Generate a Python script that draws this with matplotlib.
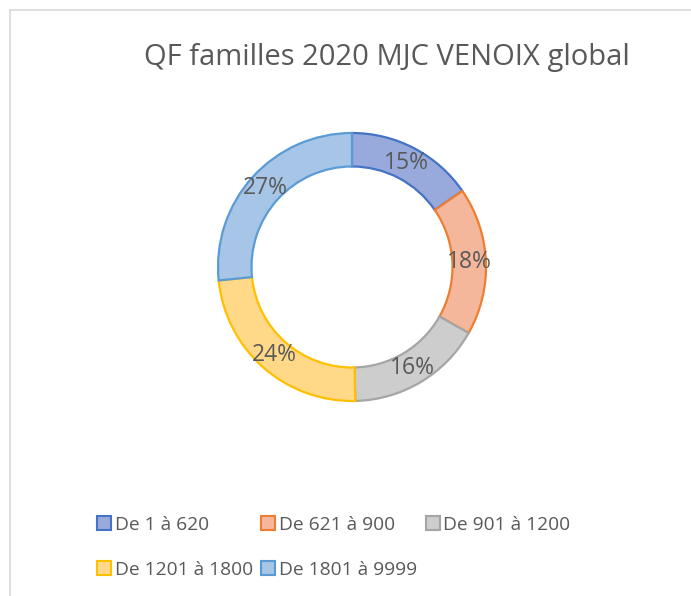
import matplotlib
matplotlib.use("Agg")
import matplotlib.pyplot as plt
from matplotlib.patches import Patch
from matplotlib.lines import Line2D
import numpy as np

categories = ["De 1 à 620", "De 621 à 900", "De 901 à 1200", "De 1201 à 1800", "De 1801 à 9999"]
values = [15.4, 17.8, 16.4, 23.8, 26.6]
labels = ["15%", "18%", "16%", "24%", "27%"]
title = "QF familles 2020 MJC VENOIX global"

edge_colors = ["#4472C4", "#ED7D31", "#A5A5A5", "#FFC000", "#5B9BD5"]
fill_colors = ["#97AADB", "#F5B79C", "#CDCDCD", "#FFD888", "#A6C5E7"]

W, H = 691, 596
fig = plt.figure(figsize=(W / 100, H / 100), dpi=100)
plt.rcParams['font.family'] = ['Open Sans', 'DejaVu Sans']

txt_color = "#595959"

# chart border
fig.add_artist(Line2D([10 / W, 1], [1 - 10 / H, 1 - 10 / H], color="#D9D9D9", lw=1.2))
fig.add_artist(Line2D([10 / W, 10 / W], [1 - 10 / H, 0], color="#D9D9D9", lw=1.2))

cx, cy, R = 352, 267, 134
ax = fig.add_axes([(cx - R) / W, 1 - (cy + R) / H, 2 * R / W, 2 * R / H])
wedges, _ = ax.pie(values, startangle=90, counterclock=False, radius=1.0,
                   colors=fill_colors,
                   wedgeprops=dict(width=0.25, linewidth=1.6))
for w, ec in zip(wedges, edge_colors):
    w.set_edgecolor(ec)
ax.set_xlim(-1, 1)
ax.set_ylim(-1, 1)
ax.set_aspect("equal")
ax.axis("off")

# labels
total = sum(values)
cum = 0
for v, lab in zip(values, labels):
    mid = 90 - (cum + v / 2) / total * 360
    cum += v
    r = 0.875
    ax.text(r * np.cos(np.radians(mid)), r * np.sin(np.radians(mid)), lab,
            ha="center", va="center", fontsize=16.5, color=txt_color)

fig.text(387 / W, 1 - 57 / H, title, ha="center", va="center", fontsize=21, color=txt_color)

handles = [Patch(facecolor=f, edgecolor=e, linewidth=1.5) for f, e in zip(fill_colors, edge_colors)]
order = [0, 3, 1, 4, 2]
leg = fig.legend([handles[i] for i in order], [categories[i] for i in order],
                 ncol=3, loc="upper left", bbox_to_anchor=(97 / W, 1 - 516 / H),
                 frameon=False, fontsize=13.8, handlelength=0.72, handleheight=0.72,
                 handletextpad=0.2, columnspacing=0.45, labelspacing=1.4,
                 borderpad=0, borderaxespad=0)
for t in leg.get_texts():
    t.set_color(txt_color)

fig.savefig("out.png", dpi=100)
